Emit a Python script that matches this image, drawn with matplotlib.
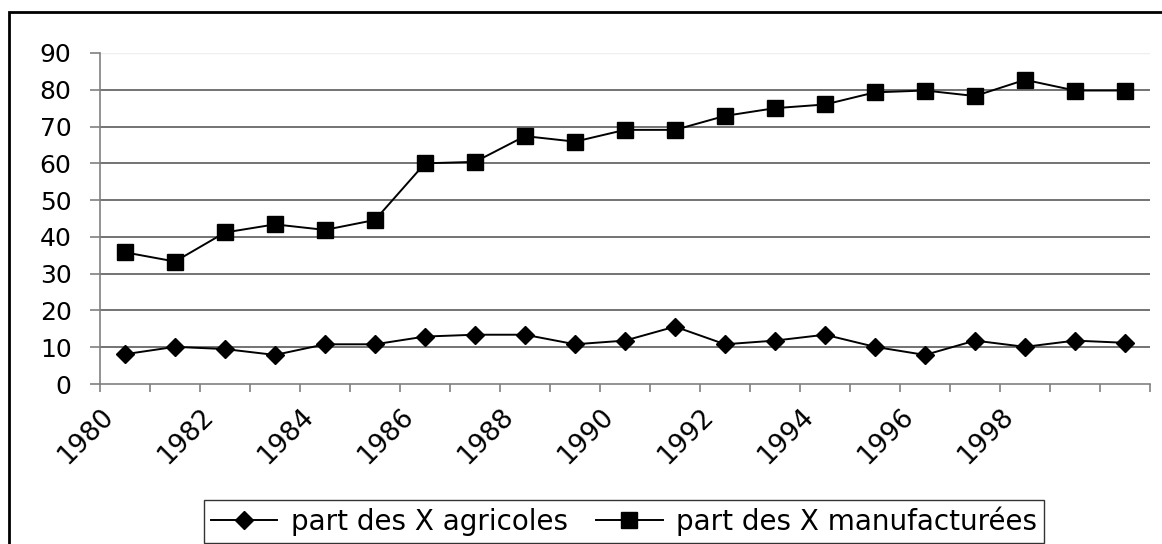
import matplotlib
matplotlib.use("Agg")
from matplotlib import pyplot as plt
from matplotlib.patches import Rectangle

annees = list(range(1980, 2001))
part_agricoles = [8.1, 10.1, 9.5, 7.9, 10.8, 10.8, 12.9, 13.4, 13.4, 10.8, 11.8,
                  15.6, 10.8, 11.8, 13.4, 10.1, 7.9, 11.8, 10.1, 11.8, 11.2]
part_manufacturees = [35.8, 33.3, 41.2, 43.4, 41.9, 44.6, 60.0, 60.4, 67.4, 65.9, 69.1,
                      69.1, 72.9, 75.0, 76.0, 79.3, 79.8, 78.3, 82.7, 79.8, 79.8]
etiquettes = [str(a) for a in range(1980, 2000, 2)]

plt.rcParams['font.family'] = ['DejaVu Sans']

W, H = 1162, 544
fig = plt.figure(figsize=(W / 100, H / 100), dpi=100)
ax = fig.add_axes([100 / W, 1 - 384 / H, 1050 / W, 331 / H])

# points au milieu de chaque categorie (axe Excel)
x = [i + 0.5 for i in range(len(annees))]
ax.plot(x, part_agricoles, color='black', lw=1.4, marker='D', ms=9,
        label='part des X agricoles')
ax.plot(x, part_manufacturees, color='black', lw=1.4, marker='s', ms=11,
        label='part des X manufacturées')

ax.set_xlim(0, len(annees))
ax.set_ylim(0, 90)
ax.set_yticks(range(0, 100, 10))
ax.set_xticks(range(0, len(annees) + 1))
ax.set_xticklabels([etiquettes[i // 2] if i % 2 == 0 and i // 2 < len(etiquettes) else ''
                    for i in range(len(annees) + 1)], fontsize=19)
for lab in ax.get_xticklabels():
    lab.set_rotation(45)
    lab.set_ha('right')
    lab.set_va('top')
    lab.set_rotation_mode('anchor')

for v in range(10, 90, 10):
    ax.axhline(v, color='#4d4d4d', lw=1.1, zorder=0)
ax.axhline(90, color='#eeeeee', lw=1, zorder=0)

for s in ['top', 'right']:
    ax.spines[s].set_visible(False)
for s in ['left', 'bottom']:
    ax.spines[s].set_color('#808080')
    ax.spines[s].set_linewidth(1.2)
ax.tick_params(axis='both', colors='#808080', width=1.2, labelcolor='black')
ax.tick_params(axis='x', length=6, pad=8)
ax.tick_params(axis='y', length=7.5, pad=13, labelsize=18)

leg = fig.legend(loc='lower center', bbox_to_anchor=(624 / W, 1 - 543 / H),
                 ncol=2, fontsize=20, frameon=True, fancybox=False,
                 edgecolor='black', handlelength=2.4, borderaxespad=0, handletextpad=0.5,
                 columnspacing=1.0, borderpad=0.25)
leg.get_frame().set_linewidth(1)

fig.add_artist(Rectangle((9 / W, -0.1), 1.2, 1.1 - 12 / H, transform=fig.transFigure,
                         fill=False, edgecolor='black', lw=2))

fig.savefig('out.png', dpi=100)
